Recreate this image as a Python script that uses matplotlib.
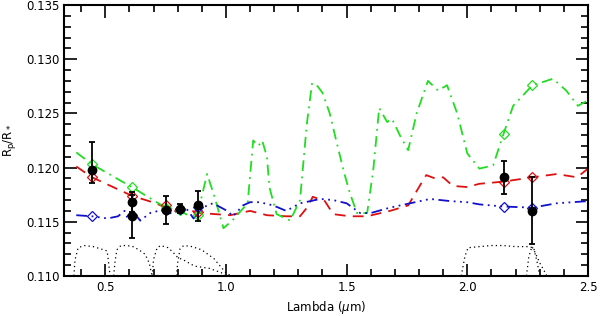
import matplotlib
matplotlib.use('Agg')
import matplotlib.pyplot as plt
from matplotlib.ticker import MultipleLocator

# observed points
obs_x = [0.445, 0.61, 0.61, 0.75, 0.81, 0.885, 2.15, 2.27]
obs_y = [0.1198, 0.1168, 0.1155, 0.1161, 0.1162, 0.1165, 0.1191, 0.1160]
obs_err_lo = [0.0012, 0.0009, 0.0020, 0.0013, 0.0004, 0.0014, 0.0015, 0.0031]
obs_err_hi = [0.0026, 0.0009, 0.0020, 0.0013, 0.0004, 0.0013, 0.0015, 0.0031]

# models
green_x = [0.38, 0.445, 0.61, 0.75, 0.81, 0.86, 0.88, 0.922, 0.95, 0.99, 1.03, 1.09,
           1.113, 1.135, 1.15, 1.17, 1.18, 1.21, 1.266, 1.307, 1.335, 1.357, 1.38,
           1.40, 1.43, 1.46, 1.49, 1.514, 1.543, 1.585, 1.61, 1.635, 1.668, 1.688,
           1.72, 1.755, 1.79, 1.837, 1.879, 1.916, 1.958, 2.00, 2.05, 2.107, 2.15,
           2.19, 2.27, 2.30, 2.355, 2.41, 2.458, 2.50]
green_y = [0.1214, 0.1203, 0.1182, 0.1163, 0.1160, 0.1154, 0.1155, 0.1194, 0.1175,
           0.1144, 0.1152, 0.1167, 0.1225, 0.1220, 0.1225, 0.1210, 0.1182, 0.1157,
           0.1151, 0.1170, 0.1240, 0.1278, 0.1275, 0.1269, 0.1250, 0.1222, 0.1195,
           0.1176, 0.1158, 0.1158, 0.1197, 0.1255, 0.1242, 0.1245, 0.1230, 0.1216,
           0.1250, 0.1280, 0.1271, 0.1276, 0.1250, 0.1213, 0.1199, 0.1202, 0.1231,
           0.1257, 0.1276, 0.1278, 0.1282, 0.1271, 0.1257, 0.1262]

red_x = [0.38, 0.445, 0.61, 0.71, 0.78, 0.84, 0.893, 1.018, 1.10, 1.17, 1.253, 1.307,
         1.336, 1.36, 1.41, 1.444, 1.514, 1.585, 1.68, 1.755, 1.80, 1.83, 1.866,
         1.90, 1.94, 2.0, 2.05, 2.15, 2.27, 2.37, 2.455, 2.50]
red_y = [0.1201, 0.1191, 0.1174, 0.1167, 0.1160, 0.1161, 0.1158, 0.1156, 0.1160,
         0.1156, 0.1155, 0.1155, 0.1163, 0.1173, 0.1169, 0.1157, 0.1155, 0.1155,
         0.1160, 0.1165, 0.1182, 0.1193, 0.1190, 0.1191, 0.1183, 0.1182, 0.1185,
         0.1187, 0.1191, 0.1194, 0.1191, 0.1199]

blue_x = [0.38, 0.445, 0.51, 0.553, 0.58, 0.595, 0.62, 0.645, 0.686, 0.72, 0.75,
          0.777, 0.81, 0.84, 0.866, 0.92, 0.947, 1.005, 1.03, 1.07, 1.10, 1.14,
          1.196, 1.25, 1.307, 1.35, 1.39, 1.444, 1.50, 1.556, 1.60, 1.68, 1.763,
          1.846, 1.93, 2.0, 2.05, 2.15, 2.27, 2.37, 2.50]
blue_y = [0.1156, 0.1155, 0.1153, 0.1155, 0.1160, 0.1152, 0.1158, 0.1151, 0.1158,
          0.1160, 0.1161, 0.1157, 0.1162, 0.1161, 0.1153, 0.1165, 0.1167, 0.1160,
          0.1155, 0.1165, 0.1168, 0.1168, 0.1165, 0.1160, 0.1167, 0.1169, 0.1171,
          0.1170, 0.1167, 0.1158, 0.1158, 0.1163, 0.1167, 0.1171, 0.1169, 0.1168,
          0.1166, 0.1164, 0.1163, 0.1167, 0.1169]

# band-integrated model values
band_x = [0.445, 0.61, 0.75, 0.81, 0.885, 2.15, 2.27]
green_band = [0.1203, 0.1182, 0.1163, 0.1161, 0.1156, 0.1231, 0.1276]
red_band = [0.1191, 0.1174, 0.1165, 0.1162, 0.1159, 0.1187, 0.1191]
blue_band = [0.1155, 0.1156, 0.1161, 0.1162, 0.1164, 0.1164, 0.1163]

# filter curves
filters = [
    ([0.37, 0.375, 0.388, 0.413, 0.45, 0.48, 0.508, 0.514, 0.52],
     [0.110, 0.1115, 0.1126, 0.1128, 0.1127, 0.1125, 0.1123, 0.1112, 0.110]),
    ([0.535, 0.54, 0.548, 0.565, 0.59, 0.615, 0.64, 0.665, 0.682, 0.69, 0.695],
     [0.110, 0.1112, 0.1124, 0.1128, 0.1128, 0.1127, 0.1124, 0.1120, 0.1112, 0.1104, 0.110]),
    ([0.695, 0.70, 0.715, 0.73, 0.76, 0.78, 0.80, 0.83, 0.87, 0.93, 0.98, 1.00],
     [0.110, 0.1115, 0.1126, 0.1128, 0.1126, 0.1122, 0.1117, 0.1114, 0.1109, 0.1107, 0.1103, 0.110]),
    ([0.795, 0.80, 0.81, 0.825, 0.86, 0.90, 0.95, 0.98, 1.00, 1.02],
     [0.110, 0.1112, 0.1125, 0.1128, 0.1127, 0.1124, 0.1116, 0.1108, 0.1103, 0.110]),
    ([1.975, 1.99, 2.003, 2.05, 2.10, 2.15, 2.20, 2.25, 2.275, 2.29, 2.30],
     [0.110, 0.1118, 0.1126, 0.1127, 0.1128, 0.1128, 0.1127, 0.1127, 0.1126, 0.1112, 0.110]),
    ([2.245, 2.255, 2.268, 2.28, 2.30, 2.33],
     [0.110, 0.1118, 0.1127, 0.1122, 0.1112, 0.110]),
]

fig = plt.figure(figsize=(6.0, 3.16), dpi=100)
ax = fig.add_axes([0.107, 0.127, 0.873, 0.857])

for fx, fy in filters:
    ax.plot(fx, fy, color='black', linestyle=(0, (1, 2.5)), linewidth=0.9)

ax.plot(red_x, red_y, color='#dd1111', linestyle=(0, (6, 4)), linewidth=1.3)
ax.plot(green_x, green_y, color='#22dd22', linestyle=(0, (6, 3, 1, 3)), linewidth=1.3)
ax.plot(blue_x, blue_y, color='#1111cc',
        linestyle=(0, (6, 2.5, 1, 2.5, 1, 2.5, 1, 2.5)), linewidth=1.3)

ax.plot(band_x, red_band, 'D', color='#dd1111', mfc='none', ms=5, mew=0.9)
ax.plot(band_x, green_band, 'D', color='#22dd22', mfc='none', ms=5, mew=0.9)
ax.plot(band_x, blue_band, 'D', color='#1111cc', mfc='none', ms=5, mew=0.9)

ax.errorbar(obs_x, obs_y, yerr=[obs_err_lo, obs_err_hi], fmt='o', color='black',
            ms=6, elinewidth=1.3, capsize=2.5, capthick=1.3, zorder=5)

ax.set_xlim(0.33, 2.5)
ax.set_ylim(0.110, 0.135)
ax.xaxis.set_major_locator(MultipleLocator(0.5))
ax.xaxis.set_minor_locator(MultipleLocator(0.1))
ax.yaxis.set_major_locator(MultipleLocator(0.005))
ax.yaxis.set_minor_locator(MultipleLocator(0.001))
ax.yaxis.set_major_formatter(plt.FormatStrFormatter('%.3f'))
ax.xaxis.set_major_formatter(plt.FormatStrFormatter('%.1f'))
ax.tick_params(which='both', direction='in', top=True, right=True, labelsize=8.5, width=1.2)
ax.tick_params(which='major', length=9)
ax.tick_params(which='minor', length=5)
for s in ax.spines.values():
    s.set_linewidth(1.5)

ax.set_xlabel(r'Lambda ($\mu$m)', fontsize=8.5, labelpad=4)
ax.set_ylabel(r'R$_\mathrm{p}$/R$_*$', fontsize=8.5, labelpad=6)

fig.savefig('out.png', dpi=100)
